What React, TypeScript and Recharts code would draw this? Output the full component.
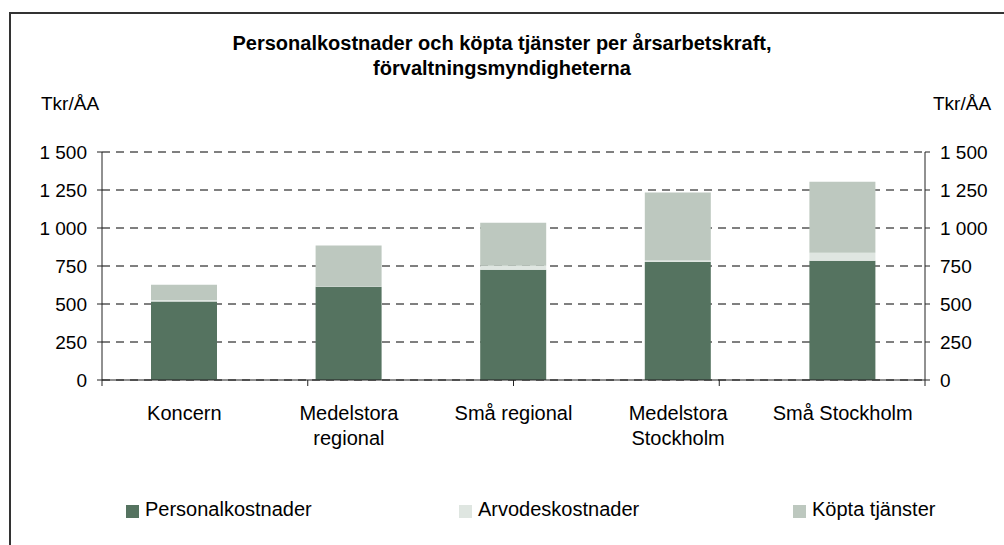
import React from "react";
import { ComposedChart, Bar, Line, XAxis, YAxis, CartesianGrid, Legend } from "recharts";

const categories = ["Koncern", "Medelstora\nregional", "Små regional", "Medelstora\nStockholm", "Små Stockholm"];
const personalkostnader = [516, 613, 725, 777, 784];
const arvodeskostnader = [11, 2, 26, 9, 53];
const kopptaTjanster = [99, 270, 283, 448, 467];
const yTicks = [0, 250, 500, 750, 1000, 1250, 1500];
const boundaryTicks = [0, 1, 2, 3, 4, 5];
const seriesNames = ["Personalkostnader", "Arvodeskostnader", "Köpta tjänster"];
const colors = ["#557360", "#dfe6e1", "#bdc8bf"];

const data = categories.map((name, i) => ({
  name,
  p: personalkostnader[i],
  a: arvodeskostnader[i],
  k: kopptaTjanster[i],
}));

const FONT = "'Liberation Sans', Arial, sans-serif";
const fmt = (v: number) => (v >= 1000 ? `${Math.floor(v / 1000)} ${String(v % 1000).padStart(3, "0")}` : String(v));

const CatTick = (props: any) => {
  const { x, y, payload } = props;
  const lines = String(payload.value).split("\n");
  return (
    <text x={x} y={y} textAnchor="middle" fontFamily={FONT} fontSize={20} fill="#000">
      {lines.map((l, i) => (
        <tspan key={i} x={x} dy={i === 0 ? 37 : 25}>
          {l}
        </tspan>
      ))}
    </text>
  );
};

const EmptyTick = () => <g />;

const legendLefts = [126, 459, 793];
const LegendContent = () => (
  <div style={{ position: "relative", width: 1004, height: 30 }}>
    {seriesNames.map((n, i) => (
      <div key={n} style={{ position: "absolute", left: legendLefts[i], top: 0, display: "flex", alignItems: "center", fontFamily: FONT, fontSize: 20, color: "#000", whiteSpace: "nowrap" }}>
        <span style={{ display: "inline-block", width: 13, height: 13, background: colors[i], marginRight: 6, marginTop: 3 }} />
        {n}
      </div>
    ))}
  </div>
);

const AXIS = "#222";

export default function App() {
  return (
    <div style={{ position: "absolute", left: 0, top: 0, width: 1004, height: 545, background: "#fff", overflow: "hidden" }}>
      <div style={{ position: "absolute", left: 9, top: 12, width: 1010, height: 560, borderTop: "2px solid #333", borderLeft: "2px solid #333" }} />
      <div style={{ position: "absolute", left: 0, top: 31, width: 1004, textAlign: "center", fontFamily: FONT, fontWeight: "bold", fontSize: 20, lineHeight: "25px", color: "#000" }}>
        Personalkostnader och köpta tjänster per årsarbetskraft,
        <br />
        förvaltningsmyndigheterna
      </div>
      <div style={{ position: "absolute", left: 41, top: 93, fontFamily: FONT, fontSize: 19, color: "#000" }}>Tkr/ÅA</div>
      <div style={{ position: "absolute", left: 933, top: 93, fontFamily: FONT, fontSize: 19, color: "#000" }}>Tkr/ÅA</div>
      <div style={{ position: "absolute", left: 0, top: 0 }}>
        <ComposedChart width={1004} height={545} data={data} margin={{ top: 152, right: 0, bottom: 35, left: 0 }} barSize={66}>
          <CartesianGrid vertical={false} stroke="#000" strokeDasharray="8 6" yAxisId="left" xAxisId={1} />
          <Bar xAxisId={1} yAxisId="left" dataKey="p" name={seriesNames[0]} stackId="s" fill={colors[0]} isAnimationActive={false} />
          <Bar xAxisId={1} yAxisId="left" dataKey="a" name={seriesNames[1]} stackId="s" fill={colors[1]} isAnimationActive={false} />
          <Bar xAxisId={1} yAxisId="left" dataKey="k" name={seriesNames[2]} stackId="s" fill={colors[2]} isAnimationActive={false} />
          <Line xAxisId={1} yAxisId="right" dataKey="p" stroke="none" dot={false} activeDot={false} legendType="none" isAnimationActive={false} />
          <Line xAxisId={0} yAxisId="left" dataKey="p" stroke="none" dot={false} activeDot={false} legendType="none" isAnimationActive={false} />
          <XAxis xAxisId={0} type="number" domain={[0, 5]} ticks={boundaryTicks} tick={<EmptyTick />} tickSize={6} height={1} stroke={AXIS} allowDataOverflow />
          <XAxis xAxisId={1} dataKey="name" interval={0} axisLine={false} tickLine={false} tickSize={0} tick={<CatTick />} height={99} />
          <YAxis yAxisId="left" domain={[0, 1500]} ticks={yTicks} tickFormatter={fmt} width={102} tickSize={5} tickMargin={10} stroke={AXIS} tick={{ fontSize: 19, fill: "#000", fontFamily: FONT }} interval={0} />
          <YAxis yAxisId="right" orientation="right" domain={[0, 1500]} ticks={yTicks} tickFormatter={fmt} width={79} tickSize={5} tickMargin={10} stroke={AXIS} tick={{ fontSize: 19, fill: "#000", fontFamily: FONT, textAnchor: "start" }} interval={0} />
          <Legend verticalAlign="bottom" content={<LegendContent />} wrapperStyle={{ left: 0, top: 498, width: 1004, height: 30 }} />
        </ComposedChart>
      </div>
    </div>
  );
}
